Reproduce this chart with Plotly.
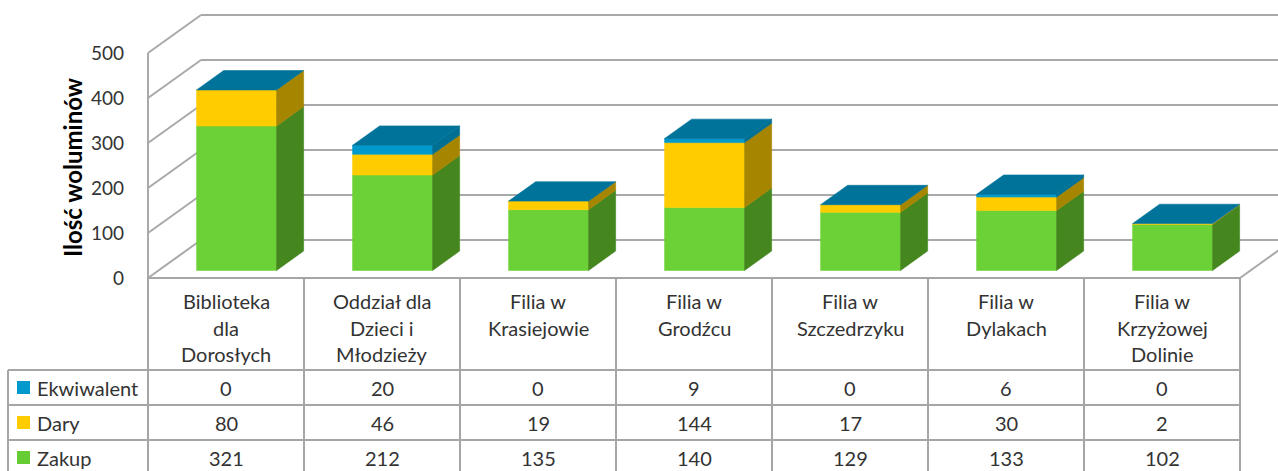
import plotly.graph_objects as go

# ---------------- data ----------------
categories = [
    ["Biblioteka", "dla", "Dorosłych"],
    ["Oddział dla", "Dzieci i", "Młodzieży"],
    ["Filia w", "Krasiejowie"],
    ["Filia w", "Grodźcu"],
    ["Filia w", "Szczedrzyku"],
    ["Filia w", "Dylakach"],
    ["Filia w", "Krzyżowej", "Dolinie"],
]
series_names = ["Zakup", "Dary", "Ekwiwalent"]          # bottom -> top of stack
zakup = [321, 212, 135, 140, 129, 133, 102]
dary = [80, 46, 19, 144, 17, 30, 2]
ekwiwalent = [0, 20, 0, 9, 0, 6, 0]
y_ticks = [0, 100, 200, 300, 400, 500]
y_title = "Ilość woluminów"
table_rows = ["Ekwiwalent", "Dary", "Zakup"]             # table order (top -> bottom)

series_values = {"Zakup": zakup, "Dary": dary, "Ekwiwalent": ekwiwalent}

# ---------------- styles / geometry ----------------
W, H = 1278, 471
PX0, COLW = 148, 156          # left edge of category area, column width (px)
PY0, PPU = 278, 0.45          # pixel of value 0 on front wall, pixels per unit
DEPTH_DX_PX, DEPTH_DY_PX = 53, 38
DX = DEPTH_DX_PX / COLW
DY = DEPTH_DY_PX / PPU
BAR_W = 80 / COLW
D0, D1 = 0.2, 0.71            # bar depth span (fraction of full depth)

FONT = "Lato"
TXT = "#333333"
GRID = "#A9A9A9"
TABLE_LINE = "#A6A6A6"
TABLE_FS = 20

face_colors = {
    "Zakup": ("#6BD137", "#45861F"),
    "Dary": ("#FFCC00", "#A68500"),
    "Ekwiwalent": ("#0099CC", "#006F93"),
}
TOP_COLOR = "#00739A"
legend_colors = {"Ekwiwalent": "#0099CC", "Dary": "#FFCC00", "Zakup": "#66CC33"}


def px2x(px):
    return (px - PX0) / COLW


def py2y(py):
    return (PY0 - py) / PPU


X_RANGE = [px2x(0), px2x(W)]
Y_RANGE = [py2y(H), py2y(0)]


def proj(x, y, d):
    return x + d * DX, y + d * DY


fig = go.Figure()

# ---------------- bars (pseudo 3D) ----------------
n = len(categories)
front = {s: ([], []) for s in series_names}
side = {s: ([], []) for s in series_names}
top_x, top_y = [], []


def add_poly(store, pts):
    xs, ys = store
    for (x, y) in pts + [pts[0]]:
        xs.append(x)
        ys.append(y)
    xs.append(None)
    ys.append(None)


for i in range(n):
    xl = i + 0.5 - BAR_W / 2
    xr = i + 0.5 + BAR_W / 2
    base = 0
    for s in series_names:
        v = series_values[s][i]
        t = base + v
        if v > 0:
            add_poly(front[s], [proj(xl, base, D0), proj(xr, base, D0),
                                proj(xr, t, D0), proj(xl, t, D0)])
            add_poly(side[s], [proj(xr, base, D0), proj(xr, base, D1),
                               proj(xr, t, D1), proj(xr, t, D0)])
        base = t
    add_poly((top_x, top_y), [proj(xl, base, D0), proj(xr, base, D0),
                              proj(xr, base, D1), proj(xl, base, D1)])

for s in series_names:
    fc, sc = face_colors[s]
    fig.add_trace(go.Scatter(x=front[s][0], y=front[s][1], mode="lines", fill="toself",
                             fillcolor=fc, line=dict(color=fc, width=0.6),
                             hoverinfo="skip", showlegend=False, name=s))
    fig.add_trace(go.Scatter(x=side[s][0], y=side[s][1], mode="lines", fill="toself",
                             fillcolor=sc, line=dict(color=sc, width=0.6),
                             hoverinfo="skip", showlegend=False, name=s))
fig.add_trace(go.Scatter(x=top_x, y=top_y, mode="lines", fill="toself",
                         fillcolor=TOP_COLOR, line=dict(color=TOP_COLOR, width=0.6),
                         hoverinfo="skip", showlegend=False))

# ---------------- walls / gridlines ----------------
shapes = []
for v in y_ticks:
    bx, by = proj(0, v, 1)
    # back wall
    shapes.append(dict(type="line", xref="x", yref="y", x0=bx, y0=by, x1=X_RANGE[1] + 1, y1=by,
                       line=dict(color=GRID, width=2), layer="below"))
    # left wall
    shapes.append(dict(type="line", xref="x", yref="y", x0=0, y0=v, x1=bx, y1=by,
                       line=dict(color=GRID, width=2), layer="below"))
# front-left vertical edge
shapes.append(dict(type="line", xref="x", yref="y", x0=0, y0=0, x1=0, y1=max(y_ticks),
                   line=dict(color=GRID, width=2), layer="below"))
# right floor edge
rx, ry = proj(n, 0, 1)
shapes.append(dict(type="line", xref="x", yref="y", x0=n, y0=0, x1=rx, y1=ry,
                   line=dict(color=GRID, width=2), layer="below"))

# ---------------- table ----------------
HEAD_TOP, HEAD_BOT = 278, 370
ROW_H = 35
ROW_LEFT_PX = 8
row_tops = [HEAD_BOT + k * ROW_H for k in range(len(table_rows) + 1)]

# header top border
shapes.append(dict(type="line", xref="x", yref="y", x0=0, y0=py2y(HEAD_TOP), x1=n, y1=py2y(HEAD_TOP),
                   line=dict(color=TABLE_LINE, width=2)))
# vertical column separators
for k in range(n + 1):
    shapes.append(dict(type="line", xref="x", yref="y", x0=k, y0=py2y(HEAD_TOP), x1=k,
                       y1=py2y(row_tops[-1]), line=dict(color=TABLE_LINE, width=2)))
# row-label column left border
shapes.append(dict(type="line", xref="x", yref="y", x0=px2x(ROW_LEFT_PX), y0=py2y(HEAD_BOT),
                   x1=px2x(ROW_LEFT_PX), y1=py2y(row_tops[-1]), line=dict(color=TABLE_LINE, width=2)))
# horizontal row lines
for r in row_tops:
    shapes.append(dict(type="line", xref="x", yref="y", x0=px2x(ROW_LEFT_PX), y0=py2y(r), x1=n,
                       y1=py2y(r), line=dict(color=TABLE_LINE, width=2)))

annotations = []
# header labels
LINE0, LINE_SP = 301, 26.5
for i, lines in enumerate(categories):
    for k, t in enumerate(lines):
        annotations.append(dict(x=i + 0.5, y=py2y(LINE0 + k * LINE_SP), xref="x", yref="y", text=t,
                                showarrow=False, xanchor="center", yanchor="middle",
                                font=dict(family=FONT, size=TABLE_FS, color=TXT)))
# rows
for r, s in enumerate(table_rows):
    cy = row_tops[r] + ROW_H / 2
    shapes.append(dict(type="rect", xref="x", yref="y", x0=px2x(17), x1=px2x(30),
                       y0=py2y(cy - 6.5), y1=py2y(cy + 6.5),
                       fillcolor=legend_colors[s], line=dict(width=0)))
    annotations.append(dict(x=px2x(35), y=py2y(cy), xref="x", yref="y", text=s, showarrow=False,
                            xanchor="left", yanchor="middle",
                            font=dict(family=FONT, size=TABLE_FS, color=TXT)))
    for i in range(n):
        annotations.append(dict(x=i + 0.5, y=py2y(cy), xref="x", yref="y",
                                text=str(series_values[s][i]), showarrow=False,
                                xanchor="center", yanchor="middle",
                                font=dict(family=FONT, size=TABLE_FS, color=TXT)))

# y-axis title
annotations.append(dict(x=px2x(72), y=py2y(167), xref="x", yref="y", text="<b>" + y_title + "</b>",
                        showarrow=False, textangle=-90, xanchor="center", yanchor="middle",
                        font=dict(family=FONT, size=24, color="#000000")))

fig.update_layout(
    width=W, height=H,
    margin=dict(l=0, r=0, t=0, b=0),
    paper_bgcolor="white", plot_bgcolor="white",
    shapes=shapes, annotations=annotations,
    xaxis=dict(range=X_RANGE, visible=False, fixedrange=True),
    yaxis=dict(range=Y_RANGE, anchor="free", position=PX0 / W, showgrid=False, zeroline=False,
               showline=False, ticks="", tickvals=y_ticks, ticklabelstandoff=24,
               tickfont=dict(family=FONT, size=19, color=TXT), fixedrange=True),
    showlegend=False,
)

fig.write_html("out.html", config={"displayModeBar": False},
               post_script="document.body.style.margin='0px';document.body.style.overflow='hidden';")
